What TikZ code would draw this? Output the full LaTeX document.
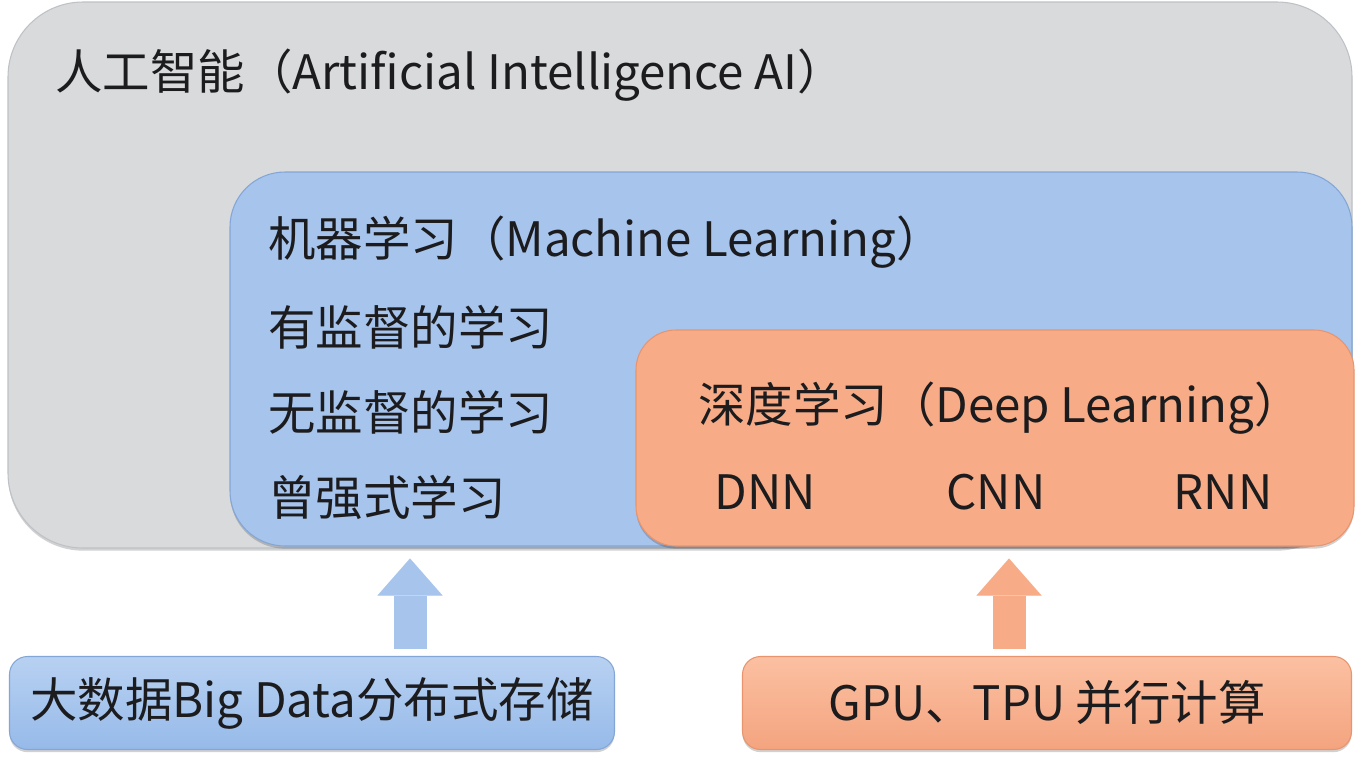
\documentclass[tikz,border=0pt]{standalone}
\usepackage{fontspec}
\setmainfont{Noto Sans CJK SC}
\usetikzlibrary{arrows.meta,shadows}

\begin{document}
\begin{tikzpicture}[x=0.02cm, y=-0.02cm,
  panel/.style={rounded corners=#1, inner sep=0pt, line width=0.6pt},
  softshadow/.style={drop shadow={shadow xshift=0pt, shadow yshift=-1.5pt, opacity=0.18, fill=black}},
  label/.style={anchor=west, inner sep=0pt, text=inkc, font=\fontsize{27}{32}\selectfont},
  netlabel/.style={label, anchor=center},
  uparrow/.style={line width=0.66cm, draw=#1,
    -{Triangle[width=1.3cm, length=0.74cm, line width=0.01pt]},
    shorten <=0.14cm, shorten >=0.24cm}]
% pixel grid of the picture, 1px = 0.02cm
\def\px{0.02cm}
\definecolor{inkc}{RGB}{28,28,30}
\definecolor{aiFill}{RGB}{216,218,220}
\definecolor{aiEdge}{RGB}{190,194,198}
\definecolor{mlFill}{RGB}{166,196,236}
\definecolor{mlEdge}{RGB}{132,166,214}
\definecolor{dlFill}{RGB}{247,172,135}
\definecolor{dlEdge}{RGB}{232,148,110}
\definecolor{bdTop}{RGB}{184,209,242}
\definecolor{bdBottom}{RGB}{150,186,233}
\definecolor{gpuTop}{RGB}{251,192,162}
\definecolor{gpuBottom}{RGB}{244,164,127}
% Background
\fill[white] (0,0) rectangle (1356,762);
\useasboundingbox (0,0) rectangle (1356,762);
% Nested areas
\node[panel=1.5cm, softshadow, fill=aiFill, draw=aiEdge,
  minimum width=1344*\px, minimum height=546*\px] (ai) at (680,275) {};
\node[panel=1.1cm, softshadow, fill=mlFill, draw=mlEdge,
  minimum width=1122*\px, minimum height=374*\px] (ml) at (791,359) {};
\node[panel=0.8cm, softshadow, fill=dlFill, draw=dlEdge,
  minimum width=718*\px, minimum height=216*\px] (dl) at (995,438) {};
% Texts
\node[label] (aiTitle) at (55,75) {人工智能（Artificial Intelligence AI）};
\node[label] (mlTitle) at (268,242) {机器学习（Machine Learning）};
\node[label] (mlSup) at (268,327) {有监督的学习};
\node[label] (mlUnsup) at (268,412) {无监督的学习};
\node[label] (mlRein) at (268,497) {曾强式学习};
\node[label] (dlTitle) at (698,408) {深度学习（Deep Learning）};
\node[netlabel] (dnn) at (765,492) {DNN};
\node[netlabel] (cnn) at (996,492) {CNN};
\node[netlabel] (rnn) at (1223,492) {RNN};
% Supporting boxes
\node[panel=0.36cm, softshadow, draw=mlEdge, top color=bdTop, bottom color=bdBottom,
  minimum width=605*\px, minimum height=93*\px, text=inkc,
  font=\fontsize{27}{32}\selectfont] (bd) at (312,703) {大数据Big Data分布式存储};
\node[panel=0.36cm, softshadow, draw=dlEdge, top color=gpuTop, bottom color=gpuBottom,
  minimum width=609*\px, minimum height=93*\px, text=inkc,
  font=\fontsize{27}{32}\selectfont] (gpu) at (1047,703) {GPU、TPU 并行计算};
% Arrows
\draw[uparrow=mlFill] (bd.north -| 410,0) -- (ml.south -| 410,0);
\draw[uparrow=dlFill] (gpu.north -| 1009,0) -- (dl.south -| 1009,0);
\end{tikzpicture}
\end{document}
